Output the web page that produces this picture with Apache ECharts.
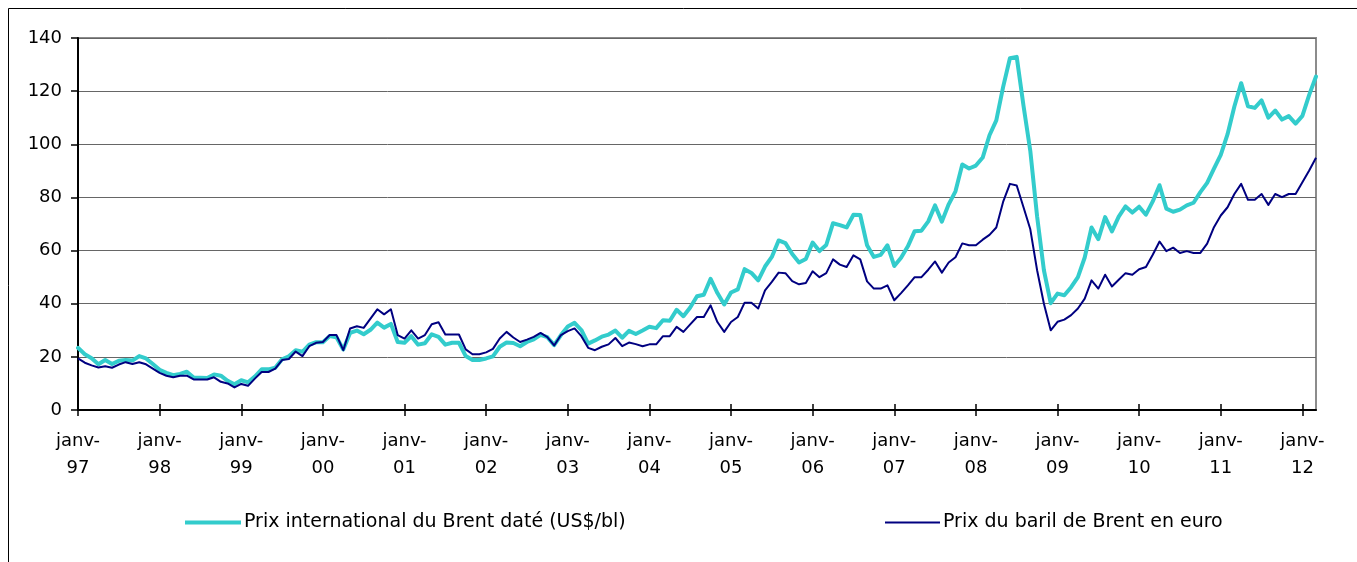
<!DOCTYPE html>
<html>
<head>
<meta charset="utf-8">
<title>Brent</title>
<script src="https://cdn.jsdelivr.net/npm/echarts@6/dist/echarts.min.js"></script>
<style>
  html, body { margin: 0; padding: 0; background: #fff; }
  #chart { width: 1357px; height: 562px; }
</style>
</head>
<body>
<div id="chart"></div>
<script>
// axes
const monthNames = ['janv', 'févr', 'mars', 'avr', 'mai', 'juin', 'juil', 'août', 'sept', 'oct', 'nov', 'déc']
const yearLabels = ['97', '98', '99', '00', '01', '02', '03', '04', '05', '06', '07', '08', '09', '10', '11', '12']
const yTicks = { min: 0, max: 140, interval: 20 }

// Prix international du Brent daté (US$/bl), mensuel janv-97 -> mars-12
const brentUsd = [
  23.4, 21.0, 19.5, 17.2, 18.8, 17.3, 18.5, 18.8, 18.6, 20.3, 19.4, 17.3,
  15.1, 14.0, 13.1, 13.6, 14.4, 12.2, 12.1, 12.0, 13.4, 12.9, 11.0, 9.7,
  11.2, 10.4, 12.6, 15.3, 15.3, 15.9, 19.1, 20.2, 22.5, 21.9, 24.6, 25.5,
  25.5, 27.8, 27.4, 22.8, 29.0, 29.9, 28.5, 30.2, 32.9, 31.0, 32.4, 25.6,
  25.3, 27.8, 24.6, 25.1, 28.5, 27.5, 24.6, 25.3, 25.3, 20.3, 18.8, 18.8,
  19.4, 20.2, 23.8, 25.4, 25.2, 24.0, 25.6, 26.6, 28.3, 27.4, 24.4, 28.2,
  31.4, 32.8, 30.1, 25.0, 26.2, 27.6, 28.4, 29.9, 27.2, 29.8, 28.6, 29.9,
  31.3, 30.8, 33.8, 33.6, 37.7, 35.3, 38.6, 42.8, 43.4, 49.4, 44.0, 39.7,
  44.2, 45.4, 53.0, 51.6, 48.8, 54.0, 57.6, 63.8, 62.8, 58.7, 55.5, 56.8,
  63.0, 59.8, 62.1, 70.3, 69.6, 68.7, 73.5, 73.4, 62.0, 57.6, 58.4, 62.0,
  54.2, 57.3, 61.6, 67.3, 67.5, 71.0, 77.0, 70.9, 77.4, 82.3, 92.4, 90.9,
  92.0, 95.0, 103.4, 109.0, 121.5, 132.4, 132.9, 114.5, 97.5, 72.8, 52.6, 40.2,
  43.8, 43.2, 46.2, 50.0, 57.4, 68.7, 64.3, 72.6, 67.2, 72.8, 76.6, 74.3,
  76.5, 73.5, 78.5, 84.6, 75.8, 74.6, 75.4, 77.0, 78.0, 82.0, 85.5, 90.8,
  96.0, 103.8, 114.2, 123.0, 114.3, 113.7, 116.5, 110.0, 112.7, 109.3, 110.6, 107.8,
  110.7, 118.6, 125.5
]

// Prix du baril de Brent en euro
const brentEur = [
  19.4, 17.8, 16.8, 16.0, 16.5, 15.9, 17.1, 18.0, 17.3, 18.0, 17.2, 15.6,
  14.0, 12.9, 12.3, 12.9, 12.9, 11.5, 11.5, 11.5, 12.3, 10.6, 10.0, 8.5,
  9.8, 9.1, 11.8, 14.3, 14.3, 15.6, 18.8, 19.2, 22.0, 20.3, 24.0, 25.3,
  25.6, 28.2, 28.2, 22.5, 30.7, 31.5, 30.9, 34.4, 37.9, 36.0, 37.9, 28.2,
  26.9, 30.0, 26.9, 28.2, 32.3, 33.0, 28.4, 28.4, 28.4, 22.8, 21.0, 21.0,
  21.7, 23.0, 26.9, 29.4, 27.3, 25.6, 26.5, 27.5, 29.0, 27.4, 24.3, 28.2,
  29.7, 30.7, 27.8, 23.4, 22.5, 23.8, 24.7, 27.1, 24.0, 25.4, 24.8, 24.0,
  24.7, 24.7, 27.8, 27.8, 31.3, 29.4, 32.2, 35.0, 35.0, 39.4, 33.1, 29.4,
  33.1, 35.0, 40.4, 40.4, 38.2, 45.0, 48.2, 51.7, 51.5, 48.5, 47.3, 47.8,
  52.2, 50.0, 51.5, 56.7, 54.7, 53.8, 58.2, 56.7, 48.4, 45.7, 45.7, 46.9,
  41.3, 44.0, 46.9, 50.0, 50.0, 52.8, 55.9, 51.7, 55.5, 57.5, 62.7, 62.0,
  62.0, 64.1, 65.9, 68.7, 78.3, 85.1, 84.5, 76.3, 68.0, 52.6, 40.0, 30.0,
  33.2, 34.0, 35.7, 38.2, 41.9, 48.8, 45.7, 50.9, 46.5, 49.0, 51.5, 50.9,
  53.0, 53.8, 58.4, 63.4, 59.8, 61.1, 59.1, 59.8, 59.1, 59.1, 62.6, 68.8,
  73.2, 76.3, 81.3, 85.1, 79.1, 79.1, 81.3, 77.2, 81.3, 80.1, 81.3, 81.3,
  85.7, 90.1, 94.9
]

const seriesNames = ['Prix international du Brent daté (US$/bl)', 'Prix du baril de Brent en euro']

const categories = []
yearLabels.forEach(y => monthNames.forEach(m => categories.push(m + '-' + y)))
categories.length = brentUsd.length

// the original text is wide for its height: DejaVu Sans fits it better than Arial
const FONT = '"DejaVu Sans", "Liberation Sans", Arial, sans-serif'
const yearTick = (i) => i % 12 === 0

const chart = echarts.init(document.getElementById('chart'))
chart.setOption({
  animation: false,
  textStyle: { fontFamily: FONT },
  grid: { left: 78, right: 41, top: 38, bottom: 152, show: true, borderColor: '#8c8c8c', borderWidth: 2 },
  graphic: [{
    type: 'rect', silent: true,
    shape: { x: 8.5, y: 8.5, width: 1400, height: 600 },
    style: { fill: 'none', stroke: '#000', lineWidth: 1 }
  }],
  legend: [
    {
      data: [seriesNames[0]], left: 185, top: 513, padding: 0, icon: 'rect', itemWidth: 56, itemHeight: 4,
      textStyle: { fontSize: 19, color: '#000', fontFamily: FONT, padding: [0, 0, 0, -2] }
    },
    {
      data: [seriesNames[1]], left: 885, top: 513, padding: 0, icon: 'rect', itemWidth: 55, itemHeight: 2,
      textStyle: { fontSize: 19, color: '#000', fontFamily: FONT, padding: [0, 0, 0, -2] }
    }
  ],
  xAxis: [
    {
      type: 'category', data: categories, boundaryGap: false,
      axisLine: { lineStyle: { color: '#000', width: 2 } },
      axisTick: { interval: yearTick, length: 6, lineStyle: { color: '#000', width: 1.5 } },
      axisLabel: {
        interval: yearTick, margin: 18, fontSize: 18, lineHeight: 27, color: '#000', fontFamily: FONT,
        formatter: v => v.replace('-', '-\n')
      },
      splitLine: { show: false }
    },
    {
      // ticks that cross the axis, as in the original
      type: 'category', data: categories, boundaryGap: false, position: 'bottom',
      axisLine: { show: false },
      axisTick: { interval: yearTick, inside: true, length: 6, lineStyle: { color: '#000', width: 1.5 } },
      axisLabel: { show: false },
      splitLine: { show: false }
    }
  ],
  yAxis: {
    type: 'value', min: yTicks.min, max: yTicks.max, interval: yTicks.interval,
    axisLine: { show: true, lineStyle: { color: '#000', width: 2 } },
    axisTick: { show: true, length: 7, lineStyle: { color: '#000', width: 1.5 } },
    axisLabel: { margin: 16, fontSize: 18, color: '#000', fontFamily: FONT },
    splitLine: { lineStyle: { color: '#666', width: 1 } }
  },
  series: [
    {
      name: seriesNames[0], type: 'line', data: brentUsd, symbol: 'none',
      itemStyle: { color: '#33cccc' },
      lineStyle: { color: '#33cccc', width: 4, join: 'round', cap: 'round' }
    },
    {
      name: seriesNames[1], type: 'line', data: brentEur, symbol: 'none',
      itemStyle: { color: '#000080' },
      lineStyle: { color: '#000080', width: 2, join: 'round' }
    }
  ]
})
</script>
</body>
</html>
